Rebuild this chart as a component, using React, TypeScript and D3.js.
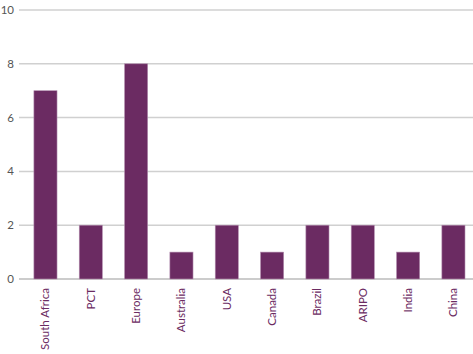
import React from "react";
import * as d3 from "d3";

const categories = ["South Africa", "PCT", "Europe", "Australia", "USA", "Canada", "Brazil", "ARIPO", "India", "China"];
const values = [7, 2, 8, 1, 2, 1, 2, 2, 1, 2];
const yTicks = [0, 2, 4, 6, 8, 10];

export default function App() {
  const W = 473, H = 354;
  const y = d3.scaleLinear().domain([0, 10]).range([279, 10]);
  const x = d3.scaleBand<string>().domain(categories).range([22.8, 476.1]).paddingInner(0.49).paddingOuter(0.245);
  const font = "Lato, 'Open Sans', sans-serif";
  return (
    <svg width={W} height={H} style={{ position: "absolute", left: 0, top: 0 }}>
      {yTicks.map((t) => (
        <g key={t}>
          <line x1={19} x2={473} y1={y(t)} y2={y(t)} stroke={t === 0 ? "#bbb" : "#d0d0d0"} strokeWidth={1.5} />
          <text x={14} y={y(t)} dy="0.35em" textAnchor="end" fontFamily={font} fontSize={11.5} fill="#555">{t}</text>
        </g>
      ))}
      {categories.map((c, i) => (
        <rect key={c} x={x(c)} y={y(values[i])} width={x.bandwidth()} height={y(0) - y(values[i])} fill="#6b2b62" stroke="#b48fb0" strokeWidth={0.6} />
      ))}
      {categories.map((c) => {
        const cx = (x(c) as number) + x.bandwidth() / 2;
        return (
          <text key={c} transform={`translate(${cx},288) rotate(-90)`} dy="0.35em" textAnchor="end" fontFamily={font} fontSize={11.5} fill="#6b2b62">{c}</text>
        );
      })}
    </svg>
  );
}
